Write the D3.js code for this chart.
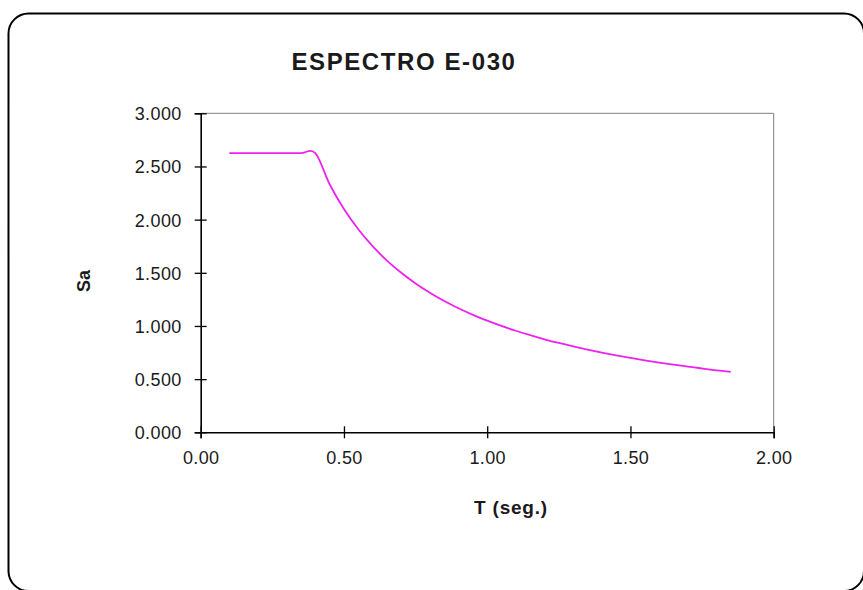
<!DOCTYPE html>
<html>
<head>
<meta charset="utf-8">
<script src="https://cdn.jsdelivr.net/npm/d3@7"></script>
<style>
html,body{margin:0;padding:0;background:#fff;overflow:hidden;}
svg{display:block;}
text{font-family:"Liberation Sans",Arial,sans-serif;fill:#1a1a1a;}
</style>
</head>
<body>
<svg id="chart" width="863" height="590"></svg>
<script>
const title = "ESPECTRO E-030";
const xLabel = "T (seg.)";
const yLabel = "Sa";
const periods = [0.10,0.15,0.20,0.25,0.30,0.35,0.40,0.45,0.50,0.55,0.60,0.65,0.70,0.75,0.80,0.85,0.90,0.95,1.00,1.05,1.10,1.15,1.20,1.25,1.30,1.35,1.40,1.45,1.50,1.55,1.60,1.65,1.70,1.75,1.80,1.85];
const saValues = [2.625,2.625,2.625,2.625,2.625,2.625,2.625,2.333,2.100,1.909,1.750,1.615,1.500,1.400,1.313,1.235,1.167,1.105,1.050,1.000,0.955,0.913,0.875,0.840,0.808,0.778,0.750,0.724,0.700,0.677,0.656,0.636,0.618,0.600,0.583,0.568];
const xTicks = [0,0.5,1.0,1.5,2.0];
const yTicks = [0,0.5,1.0,1.5,2.0,2.5,3.0];

const svg = d3.select("#chart");
const L = 200.7, R = 773.7, T = 113.3, B = 432.3;
const x = d3.scaleLinear().domain([0,2]).range([L,R]);
const y = d3.scaleLinear().domain([0,3]).range([B,T]);

// outer frame (right and bottom edges fall just outside the canvas)
svg.append("rect").attr("x",8.5).attr("y",13.5).attr("width",855.5).attr("height",577.5)
  .attr("rx",20).attr("ry",20).attr("fill","#fff").attr("stroke","#000").attr("stroke-width",2);

// plot border (top/right gray)
svg.append("path").attr("d",`M${L},${T}H${R}V${B}`).attr("fill","none").attr("stroke","#808080").attr("stroke-width",1);

// y axis
const yAxis = svg.append("g").attr("transform",`translate(${L},0)`)
  .call(d3.axisLeft(y).tickValues(yTicks).tickFormat(d3.format(".3f")).tickSize(6));
yAxis.select(".domain").attr("stroke","#000").attr("stroke-width",1.6);
yAxis.selectAll(".tick line").attr("x1",-6).attr("x2",6).attr("stroke","#000").attr("stroke-width",1.3);
yAxis.selectAll(".tick text").attr("x",-19).attr("dy","0.36em").attr("font-size",18).attr("letter-spacing","0.4px")
  .attr("font-family","Liberation Sans, Arial, sans-serif").attr("fill","#1a1a1a");

// x axis
const xAxis = svg.append("g").attr("transform",`translate(0,${B})`)
  .call(d3.axisBottom(x).tickValues(xTicks).tickFormat(d3.format(".2f")).tickSize(6));
xAxis.select(".domain").attr("stroke","#000").attr("stroke-width",1.6);
xAxis.selectAll(".tick line").attr("y1",-6).attr("y2",6).attr("stroke","#000").attr("stroke-width",1.3);
xAxis.selectAll(".tick text").attr("y",19).attr("font-size",18).attr("letter-spacing","0.4px")
  .attr("font-family","Liberation Sans, Arial, sans-serif").attr("fill","#1a1a1a");

// curve
const pts = periods.map((t,i)=>[t,saValues[i]]);
svg.append("path").datum(pts)
  .attr("d", d3.line().x(d=>x(d[0])).y(d=>y(d[1])).curve(d3.curveCatmullRom.alpha(0)))
  .attr("fill","none").attr("stroke","#ee22ee").attr("stroke-width",1.8);

// title
svg.append("text").attr("x",404).attr("y",70).attr("text-anchor","middle")
  .attr("font-size",24).attr("font-weight","bold").attr("letter-spacing","1.6px").attr("fill","#111").text(title);

// axis titles
svg.append("text").attr("x",511).attr("y",514).attr("text-anchor","middle")
  .attr("font-size",19).attr("font-weight","bold").attr("letter-spacing","0.8px").attr("fill","#111").text(xLabel);
svg.append("text").attr("transform","translate(90,281) rotate(-90)").attr("text-anchor","middle")
  .attr("font-size",18).attr("font-weight","bold").attr("fill","#111").text(yLabel);
</script>
</body>
</html>
